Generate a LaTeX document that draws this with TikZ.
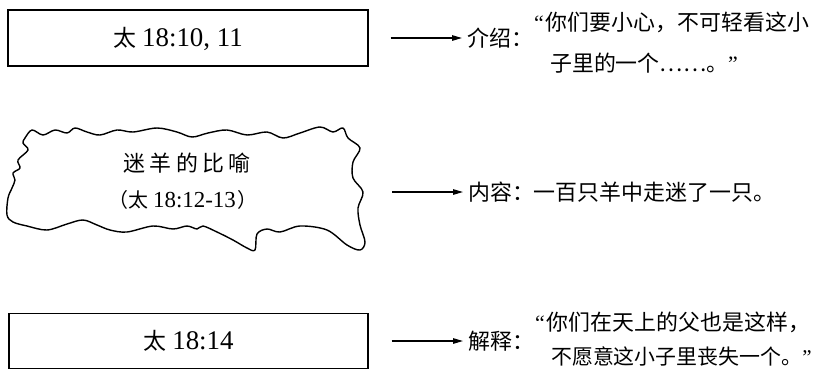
\documentclass[tikz,border=0pt]{standalone}
\usepackage{fontspec}
\setmainfont{Liberation Serif}
\newfontfamily\cjk{Noto Sans CJK SC}
\newfontfamily\cjkwide[LetterSpace=20]{Noto Sans CJK SC}
\newfontfamily\qfont{Liberation Serif}
\usetikzlibrary{arrows.meta}
\tikzset{
  rt/.style={inner sep=0pt, anchor=west, font=\fontsize{22}{22}\cjk},
  boxline/.style={draw, line width=1.3bp, inner sep=0pt},
  arr/.style={line width=1.3bp, -{Stealth[length=10bp,width=5.5bp,inset=0pt]}, shorten >=5bp},
  cloudline/.style={line width=1.4bp, line join=round},
  plain/.style={inner sep=0pt}
}
\begin{document}
\begin{tikzpicture}[x=1bp,y=-1bp]
\useasboundingbox (0,0) rectangle (818,369);
% box 1
\node[boxline, minimum width=360bp, minimum height=56bp] (b1) at (188,38) {};
\node[plain] (t1) at (178,39) {{\fontsize{23}{23}\cjk 太}\hspace{6bp}{\fontsize{27}{27}\selectfont 18:10, 11}};
% cloud
\draw[cloudline] plot[smooth cycle, tension=0.55] coordinates {
 (25,138) (32,130) (43,135) (55,130) (67,133) (75,128) (87,132) (100,135) (117,130) (133,132) (157,128) (177,132) (192,137) (208,133) (227,130) (247,135) (267,132) (283,138) (300,133) (320,127) (333,132) (343,128)
 (348,138) (360,148) (353,162) (353,178) (363,192) (358,208) (360,225) (365,242) (360,250)
 (347,245) (327,230) (300,226) (280,232) (267,229) (257,234) (255,250) (247,248) (233,240) (217,232) (203,226) (197,229) (187,226) (173,229) (153,226) (127,232) (110,230) (97,225) (83,220) (67,224) (47,230) (27,226) (13,222)
 (7,215) (8,198) (12,188) (15,180) (13,173) (20,168) (18,160) (28,150) (23,143)};
\node[plain] (c1) at (187,163) {\fontsize{22}{22}\cjkwide 迷羊的比喻};
\node[plain] (c2) at (183,200) {{\fontsize{20}{20}\cjk （太}\hspace{5bp}{\fontsize{23}{23}\selectfont 18:12-13}\hspace{2bp}{\fontsize{20}{20}\cjk ）}};
\coordinate (cR) at (392,192);
% box 3
\node[boxline, minimum width=359bp, minimum height=55bp, font=\fontsize{27}{27}\selectfont] (b3) at (188.5,341) {{\fontsize{23}{23}\cjk 太}\hspace{6bp}18:14};
% right side
\node[rt] (l1) at (467,38) {介绍：};
\node[rt] (q1a) at (534,22) {{\qfont “}\hspace{2bp}你们要小心，不可轻看这小};
\node[rt] (q1b) at (550,63) {子里的一个……。{\qfont ”}};
\node[rt] (l2) at (468,192) {内容：一百只羊中走迷了一只。};
\node[rt] (l3) at (468,341) {解释：};
\node[rt] (q3a) at (535,322) {{\qfont “}\hspace{2bp}你们在天上的父也是这样，};
\node[rt, font=\fontsize{21}{21}\cjk] (q3b) at (551,356) {不愿意这小子里丧失一个。{\qfont ”}};
% arrows
\draw[arr] ([xshift=22bp]b1.east) -- (l1.west);
\draw[arr] (cR) -- (l2.west);
\draw[arr] ([xshift=23bp]b3.east) -- (l3.west);
\end{tikzpicture}
\end{document}
